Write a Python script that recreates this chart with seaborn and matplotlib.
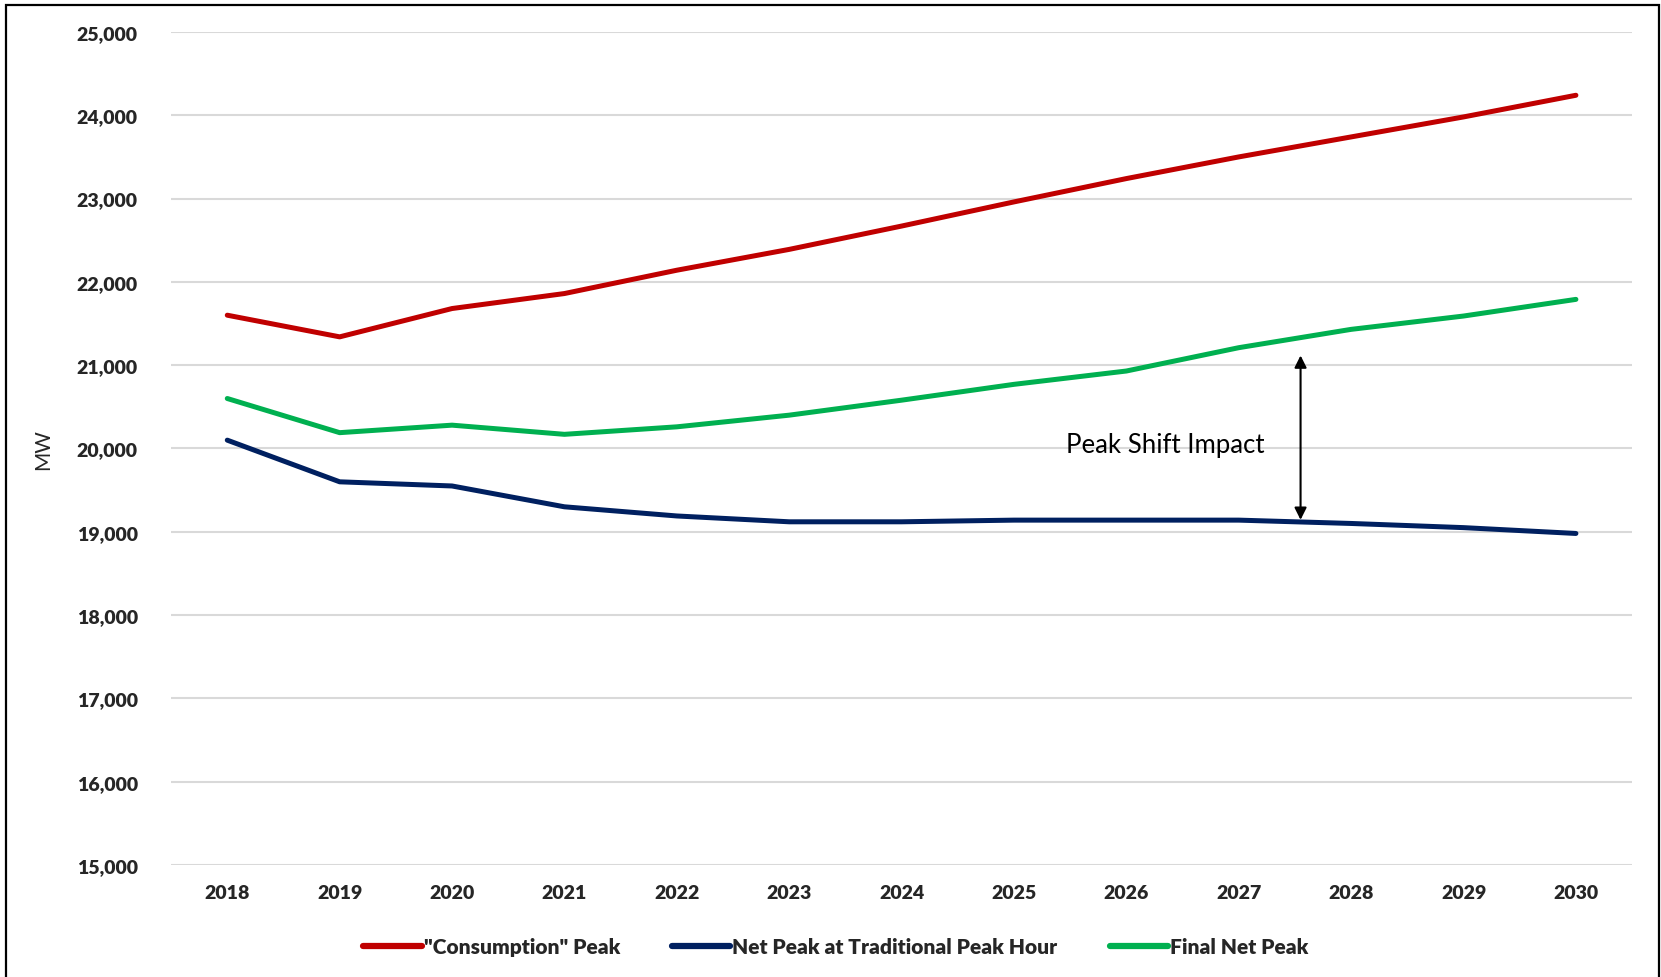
import numpy as np
import pandas as pd
import seaborn as sns
import matplotlib.pyplot as plt
from matplotlib.patches import Rectangle

years = list(range(2018, 2031))
consumption_peak = [21600, 21340, 21680, 21860, 22140, 22390, 22670, 22960, 23240, 23500, 23740, 23980, 24240]
net_peak_trad = [20100, 19600, 19550, 19300, 19190, 19120, 19120, 19140, 19140, 19140, 19100, 19050, 18980]
final_net_peak = [20600, 20190, 20280, 20170, 20260, 20400, 20580, 20770, 20930, 21210, 21430, 21590, 21790]

series_names = ['"Consumption" Peak', 'Net Peak at Traditional Peak Hour', 'Final Net Peak']
colors = ['#C00000', '#002060', '#00B050']

df = pd.DataFrame({
    'year': years * 3,
    'MW': consumption_peak + net_peak_trad + final_net_peak,
    'series': [series_names[0]] * 13 + [series_names[1]] * 13 + [series_names[2]] * 13,
})

sns.set_theme(style='white')
plt.rcParams['font.family'] = ['Lato', 'DejaVu Sans']

fig = plt.figure(figsize=(16.61, 9.78), dpi=100)
ax = fig.add_axes([0.103, 0.1145, 0.8796, 0.8518])

sns.lineplot(data=df, x='year', y='MW', hue='series', palette=colors,
             linewidth=3.6, ax=ax, solid_capstyle='round')

ax.set_xlim(2017.5, 2030.5)
ax.set_ylim(15000, 25000)
ax.set_yticks(range(15000, 25001, 1000))
ax.set_yticklabels([f'{v:,}' for v in range(15000, 25001, 1000)], fontsize=14, fontweight='heavy')
ax.set_xticks(years)
ax.set_xticklabels([str(y) for y in years], fontsize=14, fontweight='heavy')
ax.tick_params(axis='y', length=0, pad=24)
ax.tick_params(axis='x', length=0, pad=14)
ax.yaxis.grid(True, color='#d9d9d9', linewidth=1.5)
ax.xaxis.grid(False)
for s in ax.spines.values():
    s.set_visible(False)
ax.set_xlabel('')
ax.set_ylabel('MW', fontsize=15)
ax.yaxis.set_label_coords(-0.081, 0.5)

# peak shift arrow
ax.annotate('', xy=(2027.55, 21150), xytext=(2027.55, 19110),
            arrowprops=dict(arrowstyle='<|-|>', color='black', lw=1.5, mutation_scale=18))
ax.text(2026.35, 20050, 'Peak Shift Impact', fontsize=18.5, ha='center', va='center', color='black')

leg = ax.legend(loc='upper center', bbox_to_anchor=(0.455, -0.064), ncol=3, frameon=False,
                fontsize=15, handlelength=2.8, columnspacing=2.5, handletextpad=0.1)
for t in leg.get_texts():
    t.set_fontweight('heavy')
for l in leg.get_lines():
    l.set_linewidth(4.5)

fig.patches.append(Rectangle((0.0037, -0.1), 0.9952, 1.0940, transform=fig.transFigure,
                             fill=False, edgecolor='black', linewidth=1.6))

fig.savefig('out.png', dpi=100)
